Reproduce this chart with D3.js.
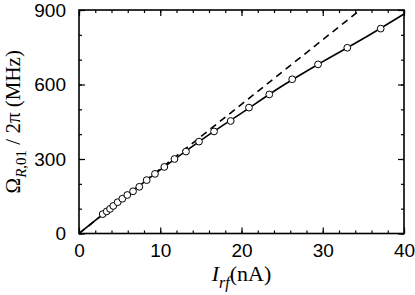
<!DOCTYPE html>
<html>
<head>
<meta charset="utf-8">
<script src="https://cdn.jsdelivr.net/npm/d3@7"></script>
<style>
  body { margin: 0; background: #fff; }
  svg { display: block; }
</style>
</head>
<body>
<div id="chart"></div>
<script>
// Measured points: drive current (nA) vs Rabi frequency (MHz)
const currentNA = [2.92, 3.41, 3.82, 4.22, 4.76, 5.33, 5.94, 6.65, 7.42, 8.33, 9.35, 10.5,
  11.75, 13.17, 14.77, 16.62, 18.67, 20.92, 23.42, 26.24, 29.42, 33.02, 37.13];
const rabiMHz = [78, 89, 99, 111, 126, 140, 155, 170, 188, 215, 240, 268,
  300, 330, 370, 411, 453, 507, 560, 621, 681, 748, 825];

// Solid curve (fit) and dashed linear line
const fitX = [0, 5, 10, 15, 20, 25, 30, 35, 40];
const fitY = [0, 130, 256, 375, 485, 594, 692, 785, 884];
const linX = [0, 34.6];
const linY = [0, 900];

// Tick values
const xMajor = [0, 10, 20, 30, 40];
const xMinor = d3.range(0, 41, 2);
const yMajor = [0, 300, 600, 900];
const yMinor = d3.range(0, 901, 100);

const width = 415;
const height = 295;
const margin = { top: 10, right: 11, bottom: 61.5, left: 79 };
const innerW = width - margin.left - margin.right;
const innerH = height - margin.top - margin.bottom;

const svg = d3
  .select('#chart')
  .append('svg')
  .attr('width', width)
  .attr('height', height);

const g = svg.append('g').attr('transform', `translate(${margin.left},${margin.top})`);

const x = d3.scaleLinear().domain([0, 40]).range([0, innerW]);
const y = d3.scaleLinear().domain([0, 900]).range([innerH, 0]);

// inward ticks on all four sides
function addAxis(axis, transform) {
  const a = g.append('g').attr('transform', transform).call(axis);
  a.select('.domain').remove();
  a.selectAll('line').attr('stroke', '#000').attr('stroke-width', 1.2);
  return a;
}

addAxis(d3.axisBottom(x).tickValues(xMinor).tickSize(-3).tickFormat(''), `translate(0,${innerH})`);
addAxis(d3.axisTop(x).tickValues(xMinor).tickSize(-3).tickFormat(''), 'translate(0,0)');
addAxis(d3.axisLeft(y).tickValues(yMinor).tickSize(-3).tickFormat(''), 'translate(0,0)');
addAxis(d3.axisRight(y).tickValues(yMinor).tickSize(-3).tickFormat(''), `translate(${innerW},0)`);

const xAx = addAxis(d3.axisBottom(x).tickValues(xMajor).tickSize(-6).tickPadding(10), `translate(0,${innerH})`);
addAxis(d3.axisTop(x).tickValues(xMajor).tickSize(-6).tickFormat(''), 'translate(0,0)');
const yAx = addAxis(d3.axisLeft(y).tickValues(yMajor).tickSize(-6).tickPadding(13), 'translate(0,0)');
addAxis(d3.axisRight(y).tickValues(yMajor).tickSize(-6).tickFormat(''), `translate(${innerW},0)`);

[xAx, yAx].forEach((a) => {
  a.selectAll('text')
    .attr('fill', '#000')
    .style('font-family', '"Liberation Sans", Arial, sans-serif')
    .style('font-size', '19px');
});

// clip for the lines
g.append('clipPath').attr('id', 'clip')
  .append('rect').attr('width', innerW).attr('height', innerH);

const line = d3.line().x((d) => x(d[0])).y((d) => y(d[1]));

g.append('path')
  .datum(linX.map((v, i) => [v, linY[i]]))
  .attr('clip-path', 'url(#clip)')
  .attr('d', line)
  .attr('fill', 'none')
  .attr('stroke', '#000')
  .attr('stroke-width', 1.6)
  .attr('stroke-dasharray', '7,5');

g.append('path')
  .datum(fitX.map((v, i) => [v, fitY[i]]))
  .attr('clip-path', 'url(#clip)')
  .attr('d', line.curve(d3.curveMonotoneX))
  .attr('fill', 'none')
  .attr('stroke', '#000')
  .attr('stroke-width', 1.6);

// data points
g.selectAll('circle')
  .data(currentNA.map((v, i) => [v, rabiMHz[i]]))
  .enter()
  .append('circle')
  .attr('cx', (d) => x(d[0]))
  .attr('cy', (d) => y(d[1]))
  .attr('r', 3.4)
  .attr('fill', '#fff')
  .attr('stroke', '#000')
  .attr('stroke-width', 1);

// frame
g.append('rect')
  .attr('width', innerW)
  .attr('height', innerH)
  .attr('fill', 'none')
  .attr('stroke', '#000')
  .attr('stroke-width', 1.6);

// axis titles
const serif = '"Liberation Serif", "Times New Roman", serif';

const xt = svg.append('text')
  .attr('x', margin.left + innerW / 2)
  .attr('y', 281)
  .attr('text-anchor', 'middle')
  .style('font-family', serif)
  .style('font-size', '22px');
xt.append('tspan').attr('font-style', 'italic').text('I');
xt.append('tspan').attr('font-style', 'italic').attr('font-size', '16px').attr('dy', 7).text('rf');
xt.append('tspan').attr('dy', -7).text('(nA)');

const yt = svg.append('text')
  .attr('transform', `translate(20,${margin.top + innerH / 2}) rotate(-90)`)
  .attr('text-anchor', 'middle')
  .style('font-family', serif)
  .style('font-size', '21px');
yt.append('tspan').text('Ω');
yt.append('tspan').attr('font-size', '15px').attr('dy', 6)
  .html('<tspan font-style="italic">R</tspan>,01');
yt.append('tspan').attr('dy', -6).text(' / 2π (MHz)');
</script>
</body>
</html>
